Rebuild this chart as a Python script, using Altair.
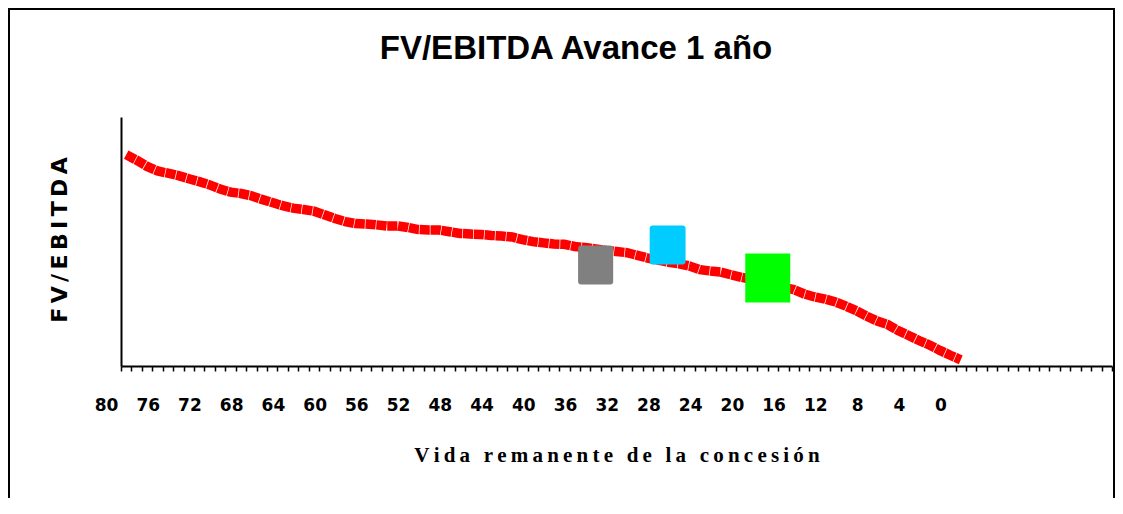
import altair as alt
import pandas as pd

# ---------------- data ----------------
years = list(range(80, -1, -1))
fv_ebitda = [21.22, 20.66, 20.04, 19.58, 19.36, 19.11, 18.80, 18.51, 18.18, 17.77,
             17.46, 17.32, 17.09, 16.73, 16.41, 16.09, 15.85, 15.71, 15.54, 15.18,
             14.81, 14.50, 14.30, 14.26, 14.17, 14.06, 14.06, 13.91, 13.70, 13.65,
             13.65, 13.48, 13.31, 13.25, 13.21, 13.11, 13.05, 12.95, 12.68, 12.49,
             12.36, 12.25, 12.22, 12.00, 11.89, 11.76, 11.61, 11.49, 11.38, 11.11,
             10.84, 10.62, 10.42, 10.25, 10.04, 9.68, 9.54, 9.43, 9.15, 8.90,
             8.67, 8.41, 8.15, 7.89, 7.67, 7.23, 6.93, 6.72, 6.42, 6.01,
             5.55, 5.00, 4.51, 4.16, 3.55, 3.07, 2.56, 2.11, 1.57, 1.08, 0.62]

marker_years = [35.0, 28.1, 18.5]
marker_values = [10.14, 12.15, 8.84]

title_text = "FV/EBITDA Avance 1 año"
x_title_text = "Vida remanente de la concesión"
y_title_text = "FV/EBITDA"
label_step = 4

# ---------------- styles ----------------
THIN = "\u2009"
def spaced(s):
    return THIN.join(list(s))

marker_styles = [
    dict(color="#808080", size=1521,
         shape="M-0.74,-1L0.74,-1Q0.9,-1 0.9,-0.85L0.9,0.85Q0.9,1 0.74,1L-0.74,1Q-0.9,1 -0.9,0.85L-0.9,-0.85Q-0.9,-1 -0.74,-1Z"),
    dict(color="#00CCFF", size=1521,
         shape="M-0.76,-1L0.76,-1Q0.92,-1 0.92,-0.85L0.92,0.85Q0.92,1 0.76,1L-0.76,1Q-0.92,1 -0.92,0.85L-0.92,-0.85Q-0.92,-1 -0.76,-1Z"),
    dict(color="#00FF00", size=2401,
         shape="M-0.918,-1L0.918,-1L0.918,1L-0.918,1Z"),
]

W, H = 991, 249
PAD = {"left": 113, "top": 109, "right": 3, "bottom": 132}

line_df = pd.DataFrame({"year": years, "value": fv_ebitda})

tick_values = [80.5 - i for i in range(96)]

x_enc = alt.X(
    "year:Q",
    scale=alt.Scale(domain=[-14.5, 80.5], reverse=True, nice=False, zero=False),
    axis=alt.Axis(
        values=tick_values,
        labelExpr=f"(datum.value - 0.5) >= 0 && (datum.value - 0.5) % {label_step} == 0 ? format(datum.value - 0.5, 'd') : ''",
        title=None, grid=False,
        domainColor="black", domainWidth=2,
        tickColor="black", tickWidth=1.5, tickSize=5,
        labelFont="DejaVu Sans", labelFontWeight="bold", labelFontSize=17,
        labelColor="black", labelPadding=26, labelOffset=-15,
        labelOverlap=False, labelFlush=False, labelBound=False,
    ),
)
y_enc = alt.Y(
    "value:Q",
    scale=alt.Scale(domain=[0, 25], nice=False),
    axis=alt.Axis(labels=False, ticks=False, grid=False, title=None,
                  domainColor="black", domainWidth=2),
)

line = alt.Chart(line_df).mark_line(
    color="#FF0000", strokeWidth=9.5, strokeCap="butt", strokeJoin="miter",
    strokeDash=[10.2, 0.7],
).encode(x=x_enc, y=y_enc)

layers = [line]
for i, st in enumerate(marker_styles):
    mdf = pd.DataFrame({"year": [marker_years[i]], "value": [marker_values[i]]})
    layers.append(
        alt.Chart(mdf).mark_point(
            filled=True, opacity=1, strokeWidth=0,
            shape=st["shape"], size=st["size"], color=st["color"],
        ).encode(x=x_enc, y=y_enc)
    )

one = pd.DataFrame({"k": [0]})

frame = alt.Chart(one).mark_rect(
    fill=None, stroke="black", strokeWidth=2
).encode(x=alt.value(-112), x2=alt.value(993), y=alt.value(-108), y2=alt.value(420))

title_mark = alt.Chart(one).mark_text(
    font="Liberation Sans, Arial, sans-serif",
    fontWeight="bold", fontSize=33, align="center", baseline="middle", color="black",
).encode(x=alt.value(455), y=alt.value(-68), text=alt.value(title_text))

x_title = alt.Chart(one).mark_text(
    font="Liberation Serif, Times New Roman, serif",
    fontWeight="bold", fontSize=21, align="center", baseline="middle", color="black",
).encode(x=alt.value(496), y=alt.value(339), text=alt.value(spaced(x_title_text)))

y_title = alt.Chart(one).mark_text(
    font="DejaVu Sans", fontWeight="bold", fontSize=22, angle=270,
    align="center", baseline="middle", color="black",
).encode(x=alt.value(-61), y=alt.value(123), text=alt.value(spaced(y_title_text)))

chart = alt.layer(frame, *layers, title_mark, x_title, y_title).properties(
    width=W, height=H, padding=PAD, autosize="none", background="white"
).configure_view(stroke=None)

chart.save("out.html", embed_options={"renderer": "svg", "actions": False})
